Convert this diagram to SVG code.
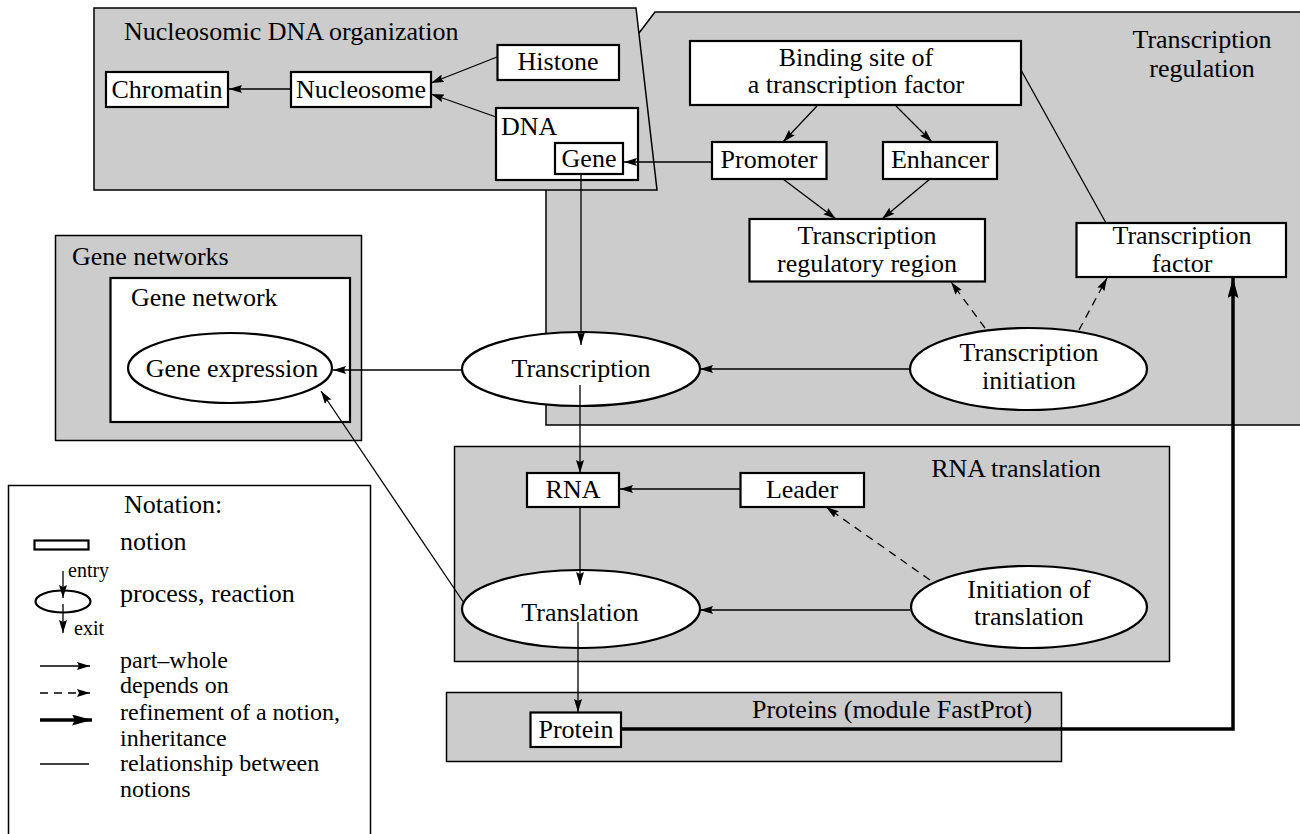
<svg xmlns="http://www.w3.org/2000/svg" width="1300" height="834" viewBox="0 0 1300 834">
<style>
text{font-family:"Liberation Serif","Times New Roman",serif;font-size:26px;fill:#000}
.s{font-size:20px}
.l{font-size:24px}
.m{text-anchor:middle}
.mod{fill:#cccccc;stroke:#000;stroke-width:1.5}
.box{fill:#fff;stroke:#000;stroke-width:2.2}
.ell{fill:#fff;stroke:#000;stroke-width:2.2}
.c{fill:none;stroke:#000;stroke-width:1.3}
.d{stroke-dasharray:8,6}
.t{fill:none;stroke:#000;stroke-width:3.5}
</style>
<defs>
<marker id="a" viewBox="0 0 13 8" refX="13" refY="4" markerWidth="13" markerHeight="8" markerUnits="userSpaceOnUse" orient="auto"><path d="M0,0 L13,4 L0,8 L2,4 z" fill="#000"/></marker>
<marker id="at" viewBox="0 0 20 11" refX="20" refY="5.5" markerWidth="20" markerHeight="11" markerUnits="userSpaceOnUse" orient="auto"><path d="M0,0 L20,5.5 L0,11 L3,5.5 z" fill="#000"/></marker>
</defs>
<rect width="1300" height="834" fill="#fff"/>

<g id="module-transcription-regulation">
<polygon class="mod" points="546,425 546,150 639,33 655,12 1306,12 1306,425"/>
<text class="m" x="1202" y="48">Transcription<tspan x="1202" y="77">regulation</tspan></text>
</g>
<g id="module-nucleosomic">
<polygon class="mod" points="94,8 636,8 657,190 94,190"/>
<text x="124" y="40">Nucleosomic DNA organization</text>
</g>
<g id="module-gene-networks">
<rect class="mod" x="55.5" y="235.5" width="306" height="205"/>
<text x="72" y="265">Gene networks</text>
</g>
<g id="module-rna-translation">
<rect class="mod" x="454.5" y="446.5" width="715" height="215"/>
<text class="m" x="1016" y="477">RNA translation</text>
</g>
<g id="module-proteins">
<rect class="mod" x="446.5" y="692.5" width="615" height="69"/>
<text x="752" y="718">Proteins (module FastProt)</text>
</g>

<g id="node-chromatin"><rect class="box" x="106" y="72" width="122" height="35"/><text class="m" x="167" y="98">Chromatin</text></g>
<g id="node-nucleosome"><rect class="box" x="291" y="72" width="140" height="35"/><text class="m" x="361" y="98">Nucleosome</text></g>
<g id="node-histone"><rect class="box" x="497.5" y="45" width="121.5" height="35"/><text class="m" x="558" y="70">Histone</text></g>
<g id="node-dna"><rect class="box" x="496" y="108" width="142" height="72"/><text x="501" y="135">DNA</text></g>
<g id="node-gene"><rect class="box" x="555" y="143" width="68" height="31"/><text class="m" x="589" y="167">Gene</text></g>

<g id="node-binding-site"><rect class="box" x="690" y="41" width="331" height="64"/><text class="m" x="856" y="66">Binding site of<tspan x="856" y="93">a transcription factor</tspan></text></g>
<g id="node-promoter"><rect class="box" x="712" y="142" width="114.5" height="37"/><text class="m" x="769" y="168">Promoter</text></g>
<g id="node-enhancer"><rect class="box" x="883" y="142" width="114" height="37"/><text class="m" x="940" y="168">Enhancer</text></g>
<g id="node-trr"><rect class="box" x="749.5" y="219" width="235.5" height="62.5"/><text class="m" x="867" y="244">Transcription<tspan x="867" y="272">regulatory region</tspan></text></g>
<g id="node-tf"><rect class="box" x="1076.5" y="223" width="209.5" height="54"/><text class="m" x="1182" y="244">Transcription<tspan x="1182" y="272">factor</tspan></text></g>
<g id="node-transcription-initiation"><ellipse class="ell" cx="1028.5" cy="369" rx="118.5" ry="41"/><text class="m" x="1029" y="361">Transcription<tspan x="1029" y="389">initiation</tspan></text></g>
<g id="node-transcription"><ellipse class="ell" cx="581" cy="369" rx="119" ry="37"/><text class="m" x="581" y="377">Transcription</text></g>

<g id="node-gene-network"><rect class="box" x="110.5" y="278" width="239.5" height="144"/><text x="131" y="306">Gene network</text></g>
<g id="node-gene-expression"><ellipse class="ell" cx="230" cy="368" rx="102" ry="35"/><text class="m" x="232" y="377">Gene expression</text></g>

<g id="node-rna"><rect class="box" x="527" y="473" width="92" height="34"/><text class="m" x="573" y="498">RNA</text></g>
<g id="node-leader"><rect class="box" x="740.5" y="473" width="123.5" height="34"/><text class="m" x="802" y="498">Leader</text></g>
<g id="node-translation"><ellipse class="ell" cx="581" cy="609" rx="119" ry="39"/><text class="m" x="580" y="621">Translation</text></g>
<g id="node-initiation-of-translation"><ellipse class="ell" cx="1029" cy="607" rx="118" ry="41"/><text class="m" x="1029" y="598">Initiation of<tspan x="1029" y="625">translation</tspan></text></g>
<g id="node-protein"><rect class="box" x="530.5" y="712.5" width="90.5" height="34.5"/><text class="m" x="576" y="738">Protein</text></g>

<g id="connectors">
<line class="c" x1="497" y1="57" x2="431" y2="83" marker-end="url(#a)"/>
<line class="c" x1="496" y1="117" x2="431" y2="94" marker-end="url(#a)"/>
<line class="c" x1="291" y1="89" x2="229" y2="89" marker-end="url(#a)"/>
<line class="c" x1="712" y1="162" x2="624" y2="162" marker-end="url(#a)"/>
<line class="c" x1="817" y1="106" x2="783" y2="142" marker-end="url(#a)"/>
<line class="c" x1="896" y1="106" x2="932" y2="142" marker-end="url(#a)"/>
<line class="c" x1="783" y1="179" x2="836" y2="219" marker-end="url(#a)"/>
<line class="c" x1="930" y1="179" x2="882" y2="219" marker-end="url(#a)"/>
<line class="c" x1="1021" y1="70" x2="1106" y2="223"/>
<line class="c d" x1="985" y1="328" x2="951" y2="282" marker-end="url(#a)"/>
<line class="c d" x1="1079" y1="330" x2="1107" y2="278" marker-end="url(#a)"/>
<line class="c" x1="910" y1="369" x2="700" y2="369" marker-end="url(#a)"/>
<line class="c" x1="581" y1="174" x2="581" y2="345" marker-end="url(#a)"/>
<line class="c" x1="462" y1="370" x2="333" y2="370" marker-end="url(#a)"/>
<line class="c" x1="580" y1="385" x2="580" y2="473" marker-end="url(#a)"/>
<line class="c" x1="740" y1="489" x2="620" y2="489" marker-end="url(#a)"/>
<line class="c" x1="580" y1="507" x2="580" y2="585" marker-end="url(#a)"/>
<line class="c" x1="910" y1="610" x2="700" y2="610" marker-end="url(#a)"/>
<line class="c d" x1="930" y1="580" x2="826" y2="507" marker-end="url(#a)"/>
<line class="c" x1="464" y1="603" x2="321" y2="391" marker-end="url(#a)"/>
<line class="c" x1="578" y1="622" x2="578" y2="712" marker-end="url(#a)"/>
<polyline class="t" points="621,729 1233,729 1233,278" marker-end="url(#at)"/>
</g>

<g id="legend">
<rect x="8.5" y="485.5" width="362" height="370" fill="#fff" stroke="#000" stroke-width="1.5"/>
<text class="m" x="173" y="513">Notation:</text>
<rect x="34.5" y="540.5" width="54" height="9" fill="#fff" stroke="#000" stroke-width="2.2"/>
<text x="120" y="550">notion</text>
<ellipse cx="63" cy="601.5" rx="27.5" ry="11" fill="#fff" stroke="#000" stroke-width="2.2"/>
<line class="c" x1="63" y1="571" x2="63" y2="598" marker-end="url(#a)"/>
<line class="c" x1="63" y1="604" x2="63" y2="633" marker-end="url(#a)"/>
<text class="s" x="68" y="577">entry</text>
<text class="s" x="74" y="635">exit</text>
<text x="120" y="602">process, reaction</text>
<line class="c" x1="40" y1="666" x2="90" y2="666" marker-end="url(#a)"/>
<text class="l" x="120" y="668">part–whole</text>
<line class="c d" x1="40" y1="693" x2="90" y2="693" stroke-dasharray="6,5" marker-end="url(#a)"/>
<text class="l" x="120" y="693">depends on</text>
<line class="t" x1="40" y1="720" x2="92" y2="720" marker-end="url(#at)"/>
<text class="l" x="120" y="720">refinement of a notion,<tspan x="120" y="746">inheritance</tspan></text>
<line class="c" x1="40" y1="764" x2="89" y2="764"/>
<text class="l" x="120" y="771">relationship between<tspan x="120" y="797">notions</tspan></text>
</g>
</svg>
